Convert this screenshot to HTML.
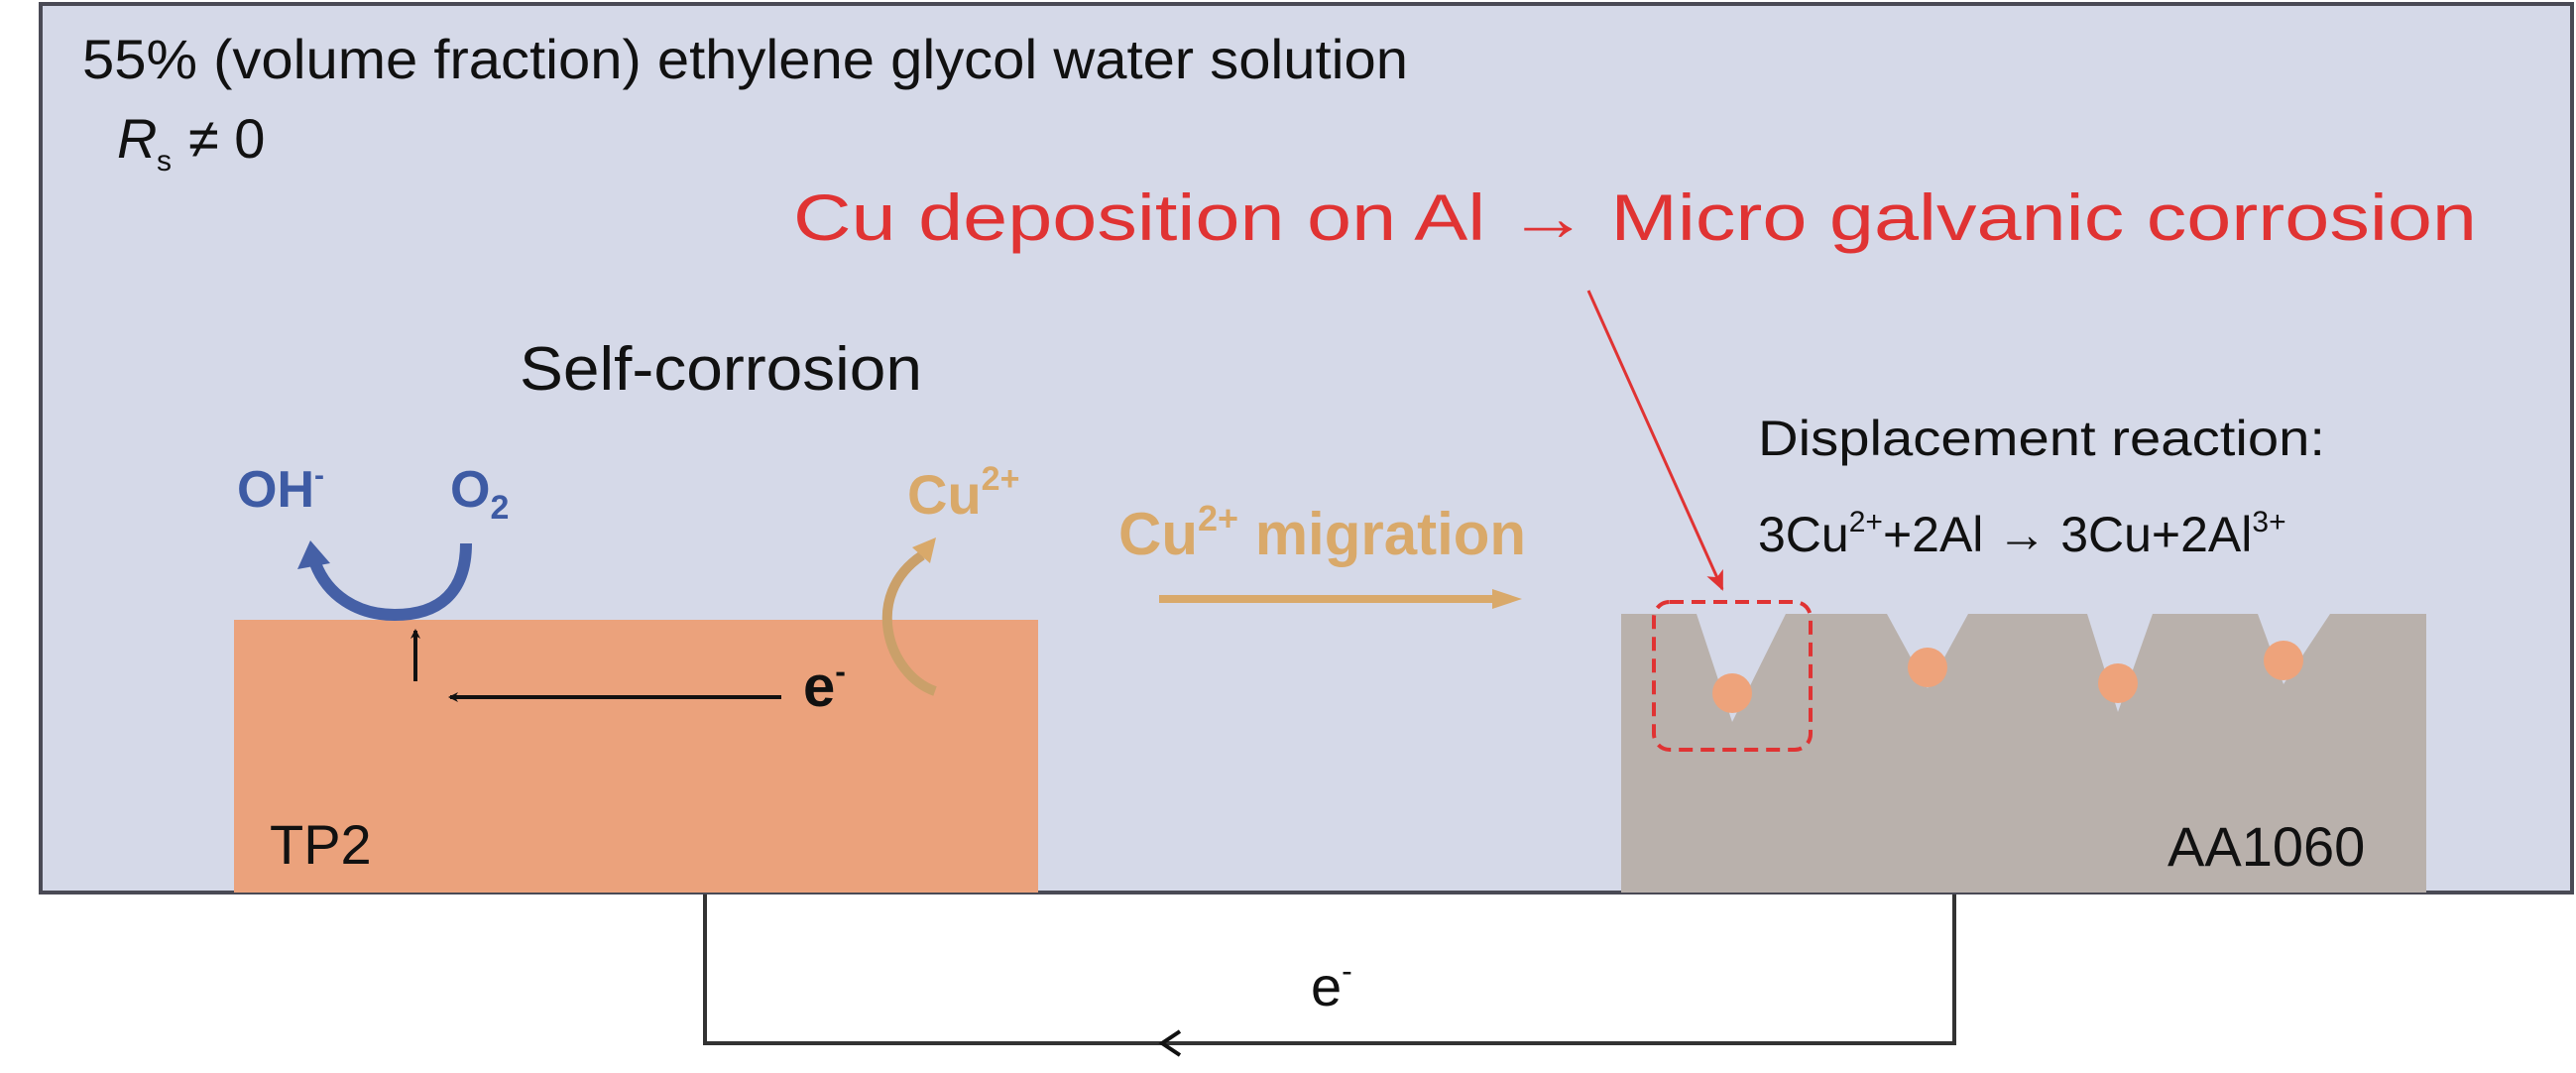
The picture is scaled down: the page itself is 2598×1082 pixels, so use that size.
<!DOCTYPE html>
<html><head><meta charset="utf-8"><style>
html,body{margin:0;padding:0;background:#fff;}
svg{display:block;}
text{font-family:"Liberation Sans",Arial,sans-serif;}
</style></head><body>
<svg width="2598" height="1082" viewBox="0 0 2598 1082" xmlns="http://www.w3.org/2000/svg">
<defs>
<marker id="ab" markerWidth="10" markerHeight="10" refX="8" refY="5" orient="auto" markerUnits="userSpaceOnUse"><path d="M0,0 L10,5 L0,10 L3,5z" fill="#111"/></marker>
<marker id="ar" markerWidth="22" markerHeight="22" refX="18" refY="11" orient="auto" markerUnits="userSpaceOnUse"><path d="M0,2 L20,11 L0,20 L5,11z" fill="#e03333"/></marker>
</defs>
<path d="M711,900 V1052 H1971 V900" fill="none" stroke="#333" stroke-width="4"/>
<path d="M1190,1040 L1172,1052 L1190,1064" fill="none" stroke="#111" stroke-width="4"/>
<text x="1322" y="1014" font-size="56" fill="#111">e<tspan dy="-24" font-size="32">-</tspan></text>
<rect x="41" y="4" width="2553" height="896" fill="#d5d9e8" stroke="#4a4a55" stroke-width="4"/>
<text x="83" y="79" font-size="56" fill="#111" textLength="1337" lengthAdjust="spacingAndGlyphs">55% (volume fraction) ethylene glycol water solution</text>
<text x="118" y="159" font-size="56" fill="#111" font-style="italic">R</text>
<text x="158" y="172" font-size="30" fill="#111">s</text>
<text x="190" y="159" font-size="56" fill="#111">≠ 0</text>
<text x="800" y="242" font-size="66" fill="#e03333" textLength="1698" lengthAdjust="spacingAndGlyphs">Cu deposition on Al → Micro galvanic corrosion</text>
<text x="524" y="393" font-size="62" fill="#111" textLength="406" lengthAdjust="spacingAndGlyphs">Self-corrosion</text>
<rect x="236" y="625" width="811" height="275" fill="#eba27c"/>
<text x="272" y="871" font-size="56" fill="#111">TP2</text>
<text x="239" y="511" font-size="52" font-weight="bold" fill="#3e5ba4">OH<tspan dy="-22" font-size="30">-</tspan></text>
<text x="454" y="511" font-size="52" font-weight="bold" fill="#3e5ba4">O<tspan dy="12" font-size="34">2</tspan></text>
<path d="M470,548 C470,600 440,620 398,620 C360,620 330,600 318,568" fill="none" stroke="#4560a6" stroke-width="12"/>
<path d="M300,574 L313,545 L333,568z" fill="#4560a6"/>
<line x1="419" y1="687" x2="419" y2="636" stroke="#111" stroke-width="4" marker-end="url(#ab)"/>
<line x1="788" y1="703" x2="454" y2="703" stroke="#111" stroke-width="4" marker-end="url(#ab)"/>
<text x="810" y="712" font-size="58" font-weight="bold" fill="#111">e<tspan dy="-24" font-size="32">-</tspan></text>
<text x="915" y="518" font-size="56" font-weight="bold" fill="#d9a96a">Cu<tspan dy="-24" font-size="34">2+</tspan></text>
<path d="M943,697 C895,680 870,600 930,560" fill="none" stroke="#caa06a" stroke-width="10"/>
<path d="M920,552 L944,542 L938,568z" fill="#d9a96a"/>
<text x="1128" y="559" font-size="60" font-weight="bold" fill="#d9a96a">Cu<tspan dy="-24" font-size="36">2+</tspan><tspan dy="24"> migration</tspan></text>
<line x1="1169" y1="604" x2="1510" y2="604" stroke="#d9a96a" stroke-width="8"/>
<path d="M1505,594 L1535,604 L1505,614z" fill="#d9a96a"/>
<path d="M1635,619 H1711 L1747,728 L1801,619 H1903 L1944,694 L1985,619 H2105 L2136,718 L2171,619 H2277 L2303,690 L2350,619 H2447 V900 H1635 Z" fill="#b9b1ac"/>
<circle cx="1747" cy="699" r="20" fill="#eea37b"/>
<circle cx="1944" cy="673" r="20" fill="#eea37b"/>
<circle cx="2136" cy="689" r="20" fill="#eea37b"/>
<circle cx="2303" cy="666" r="20" fill="#eea37b"/>
<rect x="1668" y="607" width="158" height="149" rx="16" fill="none" stroke="#e03333" stroke-width="4" stroke-dasharray="14,8"/>
<line x1="1602" y1="293" x2="1737" y2="594" stroke="#e03333" stroke-width="3" marker-end="url(#ar)"/>
<text x="2186" y="873" font-size="56" fill="#111">AA1060</text>
<text x="1773" y="459" font-size="50" fill="#111" textLength="572" lengthAdjust="spacingAndGlyphs">Displacement reaction:</text>
<text x="1773" y="556" font-size="50" fill="#111">3Cu<tspan dy="-20" font-size="30">2+</tspan><tspan dy="20">+2Al → 3Cu+2Al</tspan><tspan dy="-20" font-size="30">3+</tspan></text>
</svg>
</body></html>
